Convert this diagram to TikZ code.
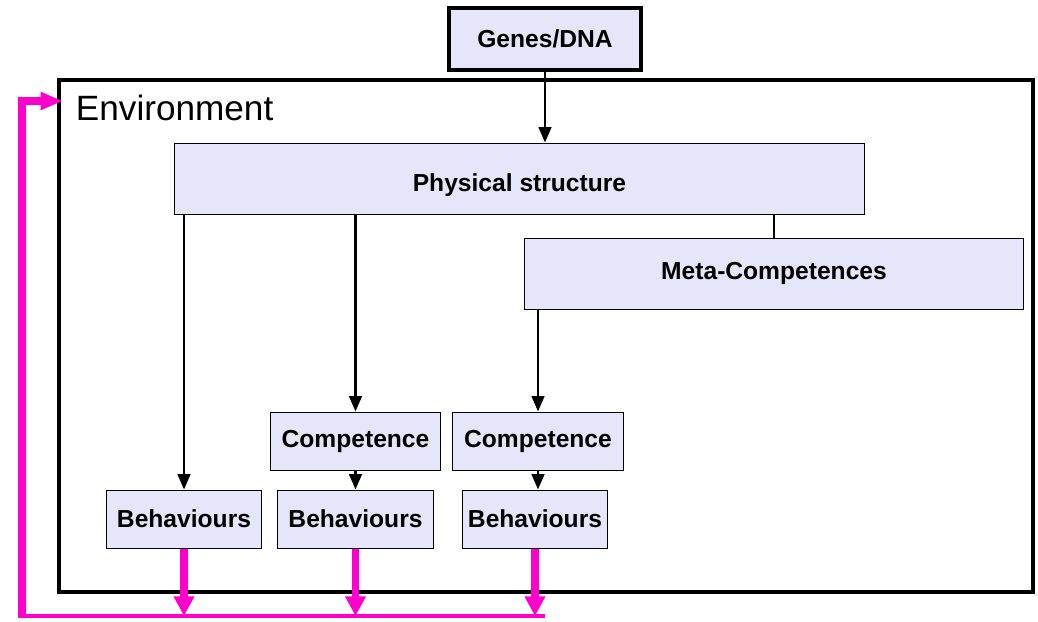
\documentclass[tikz,border=0pt]{standalone}
\usepackage{fontspec}
\setmainfont{Liberation Sans}
\usetikzlibrary{arrows.meta,calc}
\definecolor{boxfill}{RGB}{230,230,250}
\definecolor{loopcol}{RGB}{255,0,204}
\tikzset{
  box/.style={draw, fill=boxfill, line width=0.7pt, inner sep=0pt,
    font=\fontsize{17.5}{20}\selectfont\bfseries},
  link/.style={line width=1.8pt, -{Triangle[length=11pt,width=9pt]}},
  feedback/.style={loopcol, line width=5.5pt, -{Triangle[length=14pt,width=14pt]}}
}

\begin{document}
\begin{tikzpicture}[x=0.025cm,y=-0.025cm]
\useasboundingbox (0,0) rectangle (1038,621);

% environment frame
\draw[line width=2.2pt] (59,80) rectangle (1033,592);
\node[anchor=base west, font=\fontsize{25}{28}\selectfont] (env) at (71,120) {Environment};

\node[box, line width=2.2pt, minimum width=4.8cm, minimum height=1.55cm] (genes) at (545,39) {Genes/DNA};
\node[box, minimum width=17.225cm, minimum height=1.775cm, text height=22pt] (phys) at (519.5,178.5) {Physical structure};
\node[box, minimum width=12.45cm, minimum height=1.775cm] (meta) at (774,273.5) {Meta-Competences};

\node[box, minimum width=4.225cm, minimum height=1.45cm] (comp1) at (355.5,441) {Competence};
\node[box, minimum width=4.25cm, minimum height=1.45cm] (comp2) at (538,441) {Competence};

\node[box, minimum width=3.85cm, minimum height=1.45cm] (beh1) at (184,519) {Behaviours};
\node[box, minimum width=3.875cm, minimum height=1.45cm] (beh2) at (355.5,519) {Behaviours};
\node[box, minimum width=3.6cm, minimum height=1.45cm] (beh3) at (535,519) {Behaviours};

\coordinate (fbleft) at (22,616);
\coordinate (envin) at (63,101);

% black connectors
\draw[link] (genes.south) -- (genes.south |- phys.north);
\draw[link] (phys.south -| beh1.north) -- (beh1.north);
\draw[link] (phys.south -| comp1.north) -- (comp1.north);
\draw[link] (comp1.south) -- (beh2.north);
\draw[line width=1.8pt] (phys.south -| meta.north) -- (meta.north);
\draw[link] (meta.south -| comp2.north) -- (comp2.north);
\draw[link] (comp2.south) -- (comp2.south |- beh3.north);

% feedback loop
\foreach \b in {beh1,beh2,beh3}
  \draw[feedback] (\b.south) -- (\b.south |- fbleft);
\draw[loopcol, line width=3.5pt] ($(beh3.south |- fbleft)+(10,0)$) -- (fbleft);
\draw[loopcol, line width=5.5pt, line join=miter, -{Triangle[length=16pt,width=12pt]}]
  ([yshift=-1.75pt]fbleft) |- (envin);
\end{tikzpicture}
\end{document}
